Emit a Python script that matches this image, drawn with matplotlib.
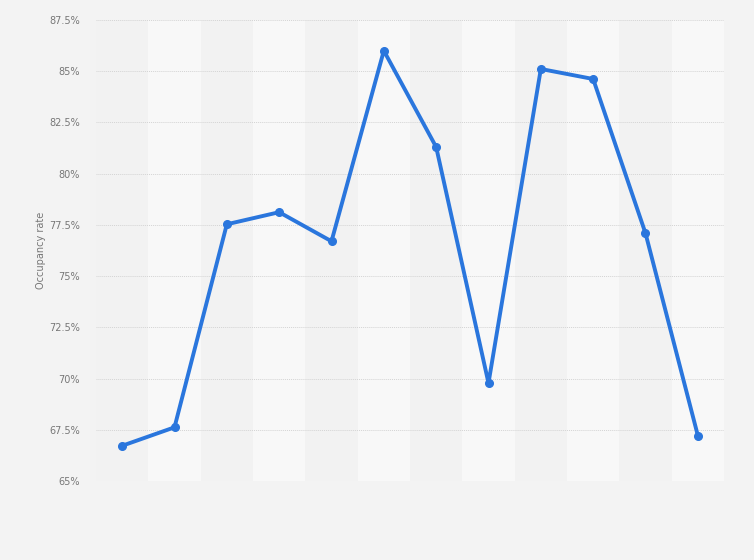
import matplotlib
matplotlib.use("Agg")
import matplotlib.pyplot as plt
import numpy as np

categories = list(range(1, 13))
occupancy = [66.72, 67.62, 77.53, 78.12, 76.70, 86.0, 81.30, 69.78, 85.11, 84.62, 77.09, 67.22]
yticks = [65, 67.5, 70, 72.5, 75, 77.5, 80, 82.5, 85, 87.5]
ytick_labels = ["65%", "67.5%", "70%", "72.5%", "75%", "77.5%", "80%", "82.5%", "85%", "87.5%"]

fig = plt.figure(figsize=(7.54, 5.6), dpi=100)
fig.patch.set_facecolor("#f3f3f3")
ax = fig.add_axes([96/754, 1-481/560, 628/754, 461/560])
ax.set_facecolor("#f2f2f2")

x = np.arange(len(categories))
for i in x:
    if i % 2 == 1:
        ax.axvspan(i - 0.5, i + 0.5, color="#f8f8f8", zorder=0, lw=0)

ax.set_xlim(-0.5, len(categories) - 0.5)
ax.set_ylim(65, 87.5)
ax.set_yticks(yticks)
ax.set_yticklabels(ytick_labels, fontsize=7, color="#777777")
ax.set_xticks([])
ax.grid(axis="y", color="#d4d4d4", linestyle=(0, (1, 1)), linewidth=0.7, zorder=1)
ax.tick_params(axis="y", length=0, pad=11.5)
for s in ax.spines.values():
    s.set_visible(False)

ax.plot(x, occupancy, color="#2a76dd", linewidth=2.8, marker="o", markersize=5.5,
        solid_joinstyle="round", zorder=3, clip_on=False)

ax.set_ylabel("Occupancy rate", fontsize=7, color="#777777")
ax.yaxis.set_label_coords(-0.08, 0.5)

fig.savefig("out.png", dpi=100, facecolor=fig.get_facecolor())
